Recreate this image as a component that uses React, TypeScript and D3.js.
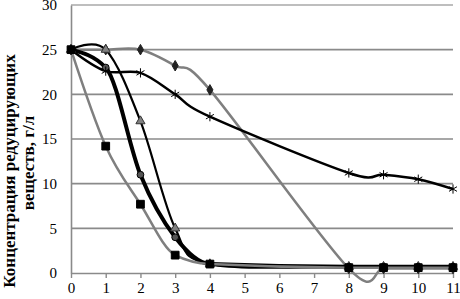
import React, { useEffect, useRef } from 'react';
import * as d3 from 'd3';

const xs = [0, 1, 2, 3, 4, 8, 9, 10, 11];
const diamondVals = [25, 25, 25, 23.2, 20.5, 0.5, 0.5, 0.5, 0.5];
const triangleVals = [25, 25, 17, 5, 1, 0.7, 0.7, 0.7, 0.7];
const circleVals = [25, 23, 11, 4, 1, 0.7, 0.7, 0.7, 0.7];
const starVals = [25, 22.6, 22.4, 20, 17.5, 11.2, 11, 10.5, 9.4];
const squareVals = [25, 14.2, 7.7, 2, 1, 0.6, 0.6, 0.6, 0.6];

const xTicks = [0, 1, 2, 3, 4, 5, 6, 7, 8, 9, 10, 11];
const yTicks = [0, 5, 10, 15, 20, 25, 30];
const yTitle = ['Концентрация редуцирующих', 'веществ, г/л'];

type Pt = { x: number; y: number };

export default function App() {
  const ref = useRef<SVGSVGElement>(null);

  useEffect(() => {
    if (!ref.current) return;
    const svg = d3.select(ref.current);
    svg.selectAll('*').remove();

    const width = 460;
    const height = 299;
    const margin = { top: 5, right: 7, bottom: 26, left: 71 };

    const x = d3.scaleLinear().domain([0, 11]).range([margin.left, width - margin.right]);
    const y = d3.scaleLinear().domain([0, 30]).range([height - margin.bottom, margin.top]);

    const font = "'Times New Roman', 'Liberation Serif', 'DejaVu Serif', serif";

    // grid lines
    svg.append('g')
      .selectAll('line')
      .data(yTicks.filter(t => t > 0))
      .join('line')
      .attr('x1', x(0))
      .attr('x2', x(11))
      .attr('y1', d => y(d))
      .attr('y2', d => y(d))
      .attr('stroke', d => (d === 30 ? '#a8a8a8' : '#8a8a8a'))
      .attr('stroke-width', 1.6);

    // axes
    const xAxis = svg.append('g')
      .attr('transform', `translate(0,${y(0)})`)
      .call(d3.axisBottom(x).tickValues(xTicks).tickSize(5).tickPadding(4).tickSizeOuter(0).tickFormat(d3.format('d')));
    xAxis.select('.domain').attr('stroke', '#8a8a8a').attr('stroke-width', 1.6);
    xAxis.selectAll('line').attr('stroke', '#8a8a8a').attr('stroke-width', 1.4);
    xAxis.selectAll('text')
      .style('font-family', font)
      .style('font-size', '15px')
      .attr('fill', '#000');

    const yAxis = svg.append('g')
      .attr('transform', `translate(${x(0)},0)`)
      .call(d3.axisLeft(y).tickValues(yTicks).tickSize(0).tickPadding(14));
    yAxis.select('.domain').attr('stroke', '#8a8a8a').attr('stroke-width', 1.6);
    yAxis.selectAll('text')
      .style('font-family', font)
      .style('font-size', '15px')
      .attr('fill', '#000');

    // y title (two rotated lines)
    const titlePos = [{ cx: 9, cy: 171 }, { cx: 28, cy: 163 }];
    yTitle.forEach((t, i) => {
      svg.append('text')
        .attr('transform', `translate(${titlePos[i].cx},${titlePos[i].cy}) rotate(-90)`)
        .attr('text-anchor', 'middle')
        .attr('dominant-baseline', 'central')
        .style('font-family', font)
        .style('font-size', '17px')
        .style('font-weight', 'bold')
        .text(t);
    });

    const toPts = (vals: number[]): Pt[] => xs.map((v, i) => ({ x: v, y: vals[i] }));
    const smooth = d3.line<Pt>()
      .x(d => x(d.x))
      .y(d => y(d.y))
      .curve(d3.curveCatmullRom.alpha(0));
    const mono = d3.line<Pt>()
      .x(d => x(d.x))
      .y(d => y(d.y))
      .curve(d3.curveMonotoneX);

    const drawLine = (vals: number[], color: string, w: number, gen: d3.Line<Pt>) => {
      svg.append('path')
        .datum(toPts(vals))
        .attr('fill', 'none')
        .attr('stroke', color)
        .attr('stroke-width', w)
        .attr('stroke-linejoin', 'round')
        .attr('d', gen);
    };

    drawLine(diamondVals, '#7f7f7f', 2.5, smooth);
    drawLine(starVals, '#000', 2.5, smooth);
    drawLine(triangleVals, '#000', 2.2, smooth);
    drawLine(circleVals, '#000', 4, mono);
    drawLine(squareVals, '#7f7f7f', 2.5, mono);

    const sym = (type: d3.SymbolType, size: number) => d3.symbol().type(type).size(size);

    const drawMarkers = (vals: number[], type: d3.SymbolType, size: number, fill: string, stroke: string) => {
      svg.append('g')
        .selectAll('path')
        .data(toPts(vals))
        .join('path')
        .attr('transform', d => `translate(${x(d.x)},${y(d.y)})`)
        .attr('d', sym(type, size)())
        .attr('fill', fill)
        .attr('stroke', stroke)
        .attr('stroke-width', 1);
    };

    drawMarkers(diamondVals, d3.symbolDiamond, 32, '#222', '#222');
    drawMarkers(triangleVals, d3.symbolTriangle, 36, '#808080', '#333');
    drawMarkers(circleVals, d3.symbolCircle, 36, '#555', '#000');
    drawMarkers(starVals, d3.symbolAsterisk, 60, 'none', '#000');
    drawMarkers(squareVals, d3.symbolSquare, 60, '#000', '#000');
  }, []);

  return (
    <div style={{ position: 'fixed', left: 0, top: 0 }}>
      <svg ref={ref} width={460} height={299} style={{ display: 'block', background: '#fff' }} />
    </div>
  );
}
